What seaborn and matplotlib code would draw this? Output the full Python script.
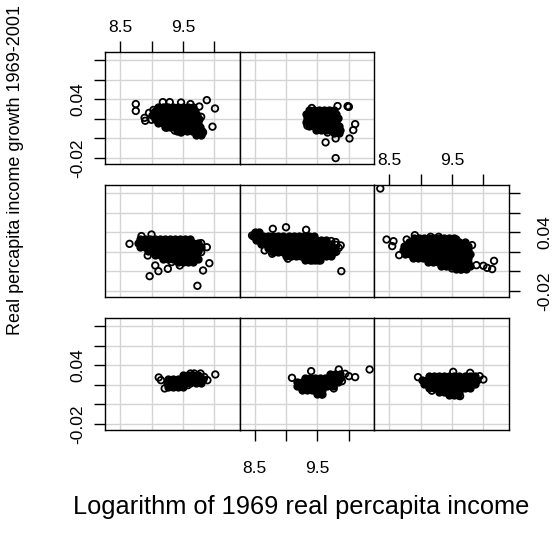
import matplotlib
matplotlib.use("Agg")
import matplotlib.pyplot as plt
import seaborn as sns
import pandas as pd

# growth vs log income, 8 regions
# each panel: dense core by growth level -> list of log incomes, plus stray points

p1_rows = {0.030: [9.50, 9.58, 9.66, 9.74],
           0.026: [9.26, 9.34, 9.42, 9.50, 9.58, 9.66, 9.74, 9.82],
           0.022: [9.24, 9.30, 9.38, 9.46, 9.54, 9.62, 9.70, 9.78],
           0.018: [9.26, 9.34, 9.42, 9.50]}
p1_x = [9.115, 9.15, 9.21, 10.015, 9.89, 9.84, 9.78, 9.68, 9.62, 9.58]
p1_y = [0.0275, 0.0247, 0.0163, 0.0305, 0.0247, 0.028, 0.0315, 0.0315, 0.0315, 0.0197]

p2_rows = {0.031: [9.70, 9.78, 9.86],
           0.027: [9.30, 9.38, 9.46, 9.54, 9.62, 9.70, 9.78, 9.86],
           0.023: [9.18, 9.26, 9.34, 9.42, 9.50, 9.58, 9.66, 9.74, 9.82],
           0.019: [9.18, 9.26, 9.34, 9.42, 9.50, 9.58, 9.66, 9.74],
           0.015: [9.26, 9.34, 9.42, 9.50, 9.58],
           0.011: [9.50, 9.58]}
p2_x = [9.095, 10.33, 10.10, 10.00, 9.84, 9.76, 9.57, 9.40, 9.89, 9.94]
p2_y = [0.0271, 0.0356, 0.0278, 0.0288, 0.0356, 0.0163, 0.0102, 0.0339, 0.0237, 0.0312]

p3_rows = {0.029: [9.14, 9.22, 9.30, 9.38, 9.46, 9.54, 9.62, 9.70, 9.78, 9.86],
           0.025: [9.02, 9.10, 9.18, 9.26, 9.34, 9.42, 9.50, 9.58, 9.66, 9.74, 9.82, 9.90],
           0.021: [9.06, 9.14, 9.22, 9.30, 9.38, 9.46, 9.54, 9.62, 9.70, 9.78, 9.86],
           0.017: [9.14, 9.22, 9.30, 9.38, 9.46, 9.54, 9.62, 9.70, 9.78],
           0.013: [9.30, 9.38, 9.46, 9.54, 9.62],
           0.010: [9.46, 9.54, 9.60]}
p3_x = [8.96, 10.0, 9.94, 9.79, 9.63, 9.18, 9.52]
p3_y = [0.0278, 0.0254, 0.0288, 0.0322, 0.0085, 0.014, 0.0332]

p4_rows = {0.033: [8.82, 8.90, 8.98, 9.06, 9.14, 9.22, 9.30, 9.38, 9.46, 9.54, 9.62],
           0.029: [8.78, 8.86, 8.94, 9.02, 9.10, 9.18, 9.26, 9.34, 9.42, 9.50, 9.58, 9.66, 9.74],
           0.025: [8.82, 8.90, 8.98, 9.06, 9.14, 9.22, 9.30, 9.38, 9.46, 9.54, 9.62, 9.70, 9.78],
           0.021: [8.94, 9.02, 9.10, 9.18, 9.26, 9.34, 9.42, 9.50, 9.58, 9.66, 9.74],
           0.017: [9.06, 9.14, 9.22, 9.30, 9.38, 9.46, 9.54, 9.62, 9.70],
           0.013: [9.18, 9.26, 9.34, 9.42, 9.50, 9.58, 9.66, 9.74],
           0.010: [9.42, 9.50, 9.58, 9.66]}
p4_x = [8.65, 9.00, 8.84, 9.79, 9.88, 9.92, 9.82, 8.94, 9.06, 9.11, 8.97, 9.26, 9.45, 9.32, 9.73, 9.79]
p4_y = [0.0281, 0.0376, 0.036, 0.0288, 0.0247, 0.0084, 0.0010, 0.0162, 0.0061, 0.0003, -0.0048,
        0.0027, 0.0061, 0.0095, -0.0146, 0.0196]

p5_rows = {0.040: [8.50, 8.57],
           0.036: [8.48, 8.56, 8.64, 8.72, 8.80, 8.88, 8.96, 9.04, 9.12, 9.20, 9.28, 9.36, 9.44],
           0.032: [8.52, 8.60, 8.68, 8.76, 8.84, 8.92, 9.00, 9.08, 9.16, 9.24, 9.32, 9.40, 9.48, 9.56, 9.64],
           0.028: [8.60, 8.68, 8.76, 8.84, 8.92, 9.00, 9.08, 9.16, 9.24, 9.32, 9.40, 9.48, 9.56, 9.64, 9.72],
           0.024: [8.72, 8.80, 8.88, 8.96, 9.04, 9.12, 9.20, 9.28, 9.36, 9.44, 9.52, 9.60, 9.68, 9.76],
           0.020: [8.80, 8.88, 8.96, 9.04, 9.12, 9.20, 9.28, 9.36, 9.44, 9.52, 9.60, 9.68, 9.76],
           0.016: [9.00, 9.08, 9.16, 9.24, 9.32, 9.40, 9.48, 9.56, 9.64, 9.72],
           0.012: [9.30, 9.38, 9.46, 9.54]}
p5_x = [8.46, 8.79, 9.00, 9.32, 8.66, 8.78, 9.03, 9.42, 9.52, 9.69, 9.87, 9.79, 9.88,
        9.72, 9.80, 9.84, 9.80]
p5_y = [0.0366, 0.0434, 0.045, 0.0424, 0.0214, 0.018, 0.013, 0.0112, 0.0112, 0.0173, 0.0265,
        0.0299, 0.0003, 0.031, 0.027, 0.024, 0.020]

p6_rows = {0.034: [8.90, 8.98, 9.06, 9.14, 9.22, 9.30, 9.38, 9.46, 9.54],
           0.030: [8.82, 8.90, 8.98, 9.06, 9.14, 9.22, 9.30, 9.38, 9.46, 9.54, 9.62, 9.70],
           0.026: [8.74, 8.82, 8.90, 8.98, 9.06, 9.14, 9.22, 9.30, 9.38, 9.46, 9.54, 9.62, 9.70, 9.76],
           0.022: [8.72, 8.80, 8.88, 8.96, 9.04, 9.12, 9.20, 9.28, 9.36, 9.44, 9.52, 9.60, 9.68, 9.76],
           0.018: [8.76, 8.84, 8.92, 9.00, 9.08, 9.16, 9.24, 9.32, 9.40, 9.48, 9.56, 9.64, 9.72, 9.78],
           0.014: [8.88, 8.96, 9.04, 9.12, 9.20, 9.28, 9.36, 9.44, 9.52, 9.60, 9.68, 9.76],
           0.010: [9.12, 9.20, 9.28, 9.36, 9.44, 9.52, 9.60, 9.68, 9.76],
           0.006: [9.32, 9.40, 9.48, 9.56, 9.64, 9.72, 9.78],
           0.002: [9.56, 9.64, 9.72]}
p6_x = [8.36, 8.46, 8.57, 8.55, 8.66, 8.78, 8.91, 9.16, 9.29, 9.57, 9.82, 9.89, 10.00, 10.06,
        10.14, 10.17, 9.50, 9.64, 9.21]
p6_y = [0.0844, 0.0325, 0.0308, 0.0258, 0.0166, 0.0325, 0.0369, 0.0353, 0.0353, 0.0325, 0.0268,
        0.0064, 0.0058, 0.0037, 0.0024, 0.0108, 0.0031, 0.0020, 0.0098]

p7_rows = {0.032: [9.10, 9.18, 9.26, 9.34, 9.42, 9.50, 9.58, 9.66],
           0.028: [9.05, 9.13, 9.21, 9.29, 9.37, 9.45, 9.53, 9.61, 9.69],
           0.024: [9.01, 9.09, 9.17, 9.25, 9.33, 9.41, 9.49, 9.57, 9.65, 9.73],
           0.020: [9.05, 9.13, 9.21, 9.29, 9.37, 9.45, 9.53, 9.61, 9.69, 9.76],
           0.016: [9.10, 9.18, 9.26, 9.34, 9.42, 9.50, 9.58, 9.66, 9.74],
           0.012: [9.21, 9.29, 9.37, 9.45, 9.53, 9.61, 9.69, 9.77],
           0.008: [9.40, 9.48, 9.56, 9.64, 9.72, 9.80],
           0.004: [9.70, 9.78]}
p7_x = [8.75, 8.75, 8.89, 8.90, 8.96, 9.03, 9.00, 9.18, 9.29, 9.47, 9.62, 9.76, 9.88, 10.01,
        9.79, 9.97, 9.82, 9.78, 9.74, 9.47, 9.24, 9.37]
p7_y = [0.035, 0.028, 0.021, 0.018, 0.026, 0.029, 0.019, 0.037, 0.037, 0.0366, 0.035, 0.0325,
        0.039, 0.0305, 0.022, 0.012, 0.006, 0.0035, 0.0045, 0.006, 0.011, 0.008]

p8_rows = {0.029: [9.36, 9.44, 9.52, 9.60, 9.68, 9.76],
           0.025: [9.32, 9.40, 9.48, 9.56, 9.64, 9.72, 9.80],
           0.021: [9.34, 9.42, 9.50, 9.58, 9.66, 9.74, 9.82],
           0.017: [9.32, 9.40, 9.48, 9.56, 9.64, 9.72, 9.80],
           0.013: [9.36, 9.44, 9.52, 9.60, 9.68, 9.76, 9.84],
           0.009: [9.48, 9.56, 9.64, 9.72, 9.80, 9.86],
           0.006: [9.76, 9.84]}
p8_x = [9.41, 9.82, 9.99, 10.00, 9.98, 10.10, 10.07, 10.01, 9.79, 9.63, 9.79, 9.34, 9.66, 9.84]
p8_y = [0.031, 0.033, 0.0325, 0.0322, 0.0328, 0.0146, 0.0085, 0.0000, 0.000, -0.004, -0.020,
        0.013, 0.006, 0.0067]

x_ticks = [8.5, 9.0, 9.5, 10.0]
x_labels = ["8.5", "", "9.5", ""]
y_ticks = [-0.02, 0.0, 0.02, 0.04, 0.06, 0.08]
y_labels = ["-0.02", "", "", "0.04", "", ""]

panels = {1: (p1_rows, p1_x, p1_y), 2: (p2_rows, p2_x, p2_y), 3: (p3_rows, p3_x, p3_y),
          4: (p4_rows, p4_x, p4_y), 5: (p5_rows, p5_x, p5_y), 6: (p6_rows, p6_x, p6_y),
          7: (p7_rows, p7_x, p7_y), 8: (p8_rows, p8_x, p8_y)}

frames = []
for pid, (rows, ex, ey) in panels.items():
    xs, ys = [], []
    for yv, xl in rows.items():
        xs += xl
        ys += [yv] * len(xl)
    frames.append(pd.DataFrame({"loginc": xs, "growth": ys, "panel": pid, "kind": "core"}))
    frames.append(pd.DataFrame({"loginc": ex, "growth": ey, "panel": pid, "kind": "stray"}))
df = pd.concat(frames, ignore_index=True)

sns.set_theme(style="white")
plt.rcParams["font.family"] = ["Liberation Sans", "DejaVu Sans"]

W, H = 557, 548
fig = plt.figure(figsize=(W / 100, H / 100), dpi=100)

# lattice layout: panels fill from bottom-left
pos = {1: (2, 0), 2: (2, 1), 3: (2, 2), 4: (1, 0), 5: (1, 1), 6: (1, 2), 7: (0, 0), 8: (0, 1)}
row_top = [52, 185, 318]
col_left = [105, 239.5, 374]
pw, ph = 134.5, 112
sides = {1: ["left"], 2: ["bottom"], 3: [], 4: [], 5: [], 6: ["top", "right"], 7: ["top", "left"], 8: []}
pads = {"left": 6, "top": 4, "bottom": 14, "right": 13}

for pid, (r, c) in pos.items():
    ax = fig.add_axes([col_left[c] / W, 1 - (row_top[r] + ph) / H, pw / W, ph / H])
    sub = df[df.panel == pid]
    # overplotted core is a solid black mass, strays stay as open circles
    sns.scatterplot(data=sub[sub.kind == "core"], x="loginc", y="growth", ax=ax,
                    marker="o", s=22, color="black", edgecolor="black", linewidth=1.3)
    sns.scatterplot(data=sub[sub.kind == "stray"], x="loginc", y="growth", ax=ax,
                    marker="o", s=22, color="black", edgecolor="black", linewidth=1.3)
    ax.collections[-1].set_facecolor("none")
    ax.set_xlim(8.26, 10.40)
    ax.set_ylim(-0.026, 0.088)
    ax.set_xticks(x_ticks)
    ax.set_xticklabels(x_labels)
    ax.set_yticks(y_ticks)
    ax.set_yticklabels(y_labels)
    ax.set_xlabel("")
    ax.set_ylabel("")
    ax.grid(True, color="#d4d4d4", lw=1)
    ax.set_axisbelow(True)
    for sp in ax.spines.values():
        sp.set_color("black")
        sp.set_linewidth(1)
    ax.tick_params(which="both", direction="out", length=8, width=1, color="black",
                   labelsize=12.5, labelcolor="black",
                   bottom=False, top=False, left=False, right=False,
                   labelbottom=False, labeltop=False, labelleft=False, labelright=False)
    for s in sides[pid]:
        ax.tick_params(axis="x" if s in ("top", "bottom") else "y",
                       pad=pads[s], **{s: True, "label" + s: True})
    ax.tick_params(axis="y", labelrotation=90)
    for lab in ax.get_yticklabels():
        lab.set_va("center")

fig.text(301 / W, 1 - 507 / H, "Logarithm of 1969 real percapita income",
         ha="center", va="center", fontsize=18.25, color="black")
fig.text(16 / W, 1 - 170 / H, "Real percapita income growth 1969-2001",
         rotation=90, ha="center", va="center", fontsize=13, color="black")

fig.savefig("out.png", dpi=100)
